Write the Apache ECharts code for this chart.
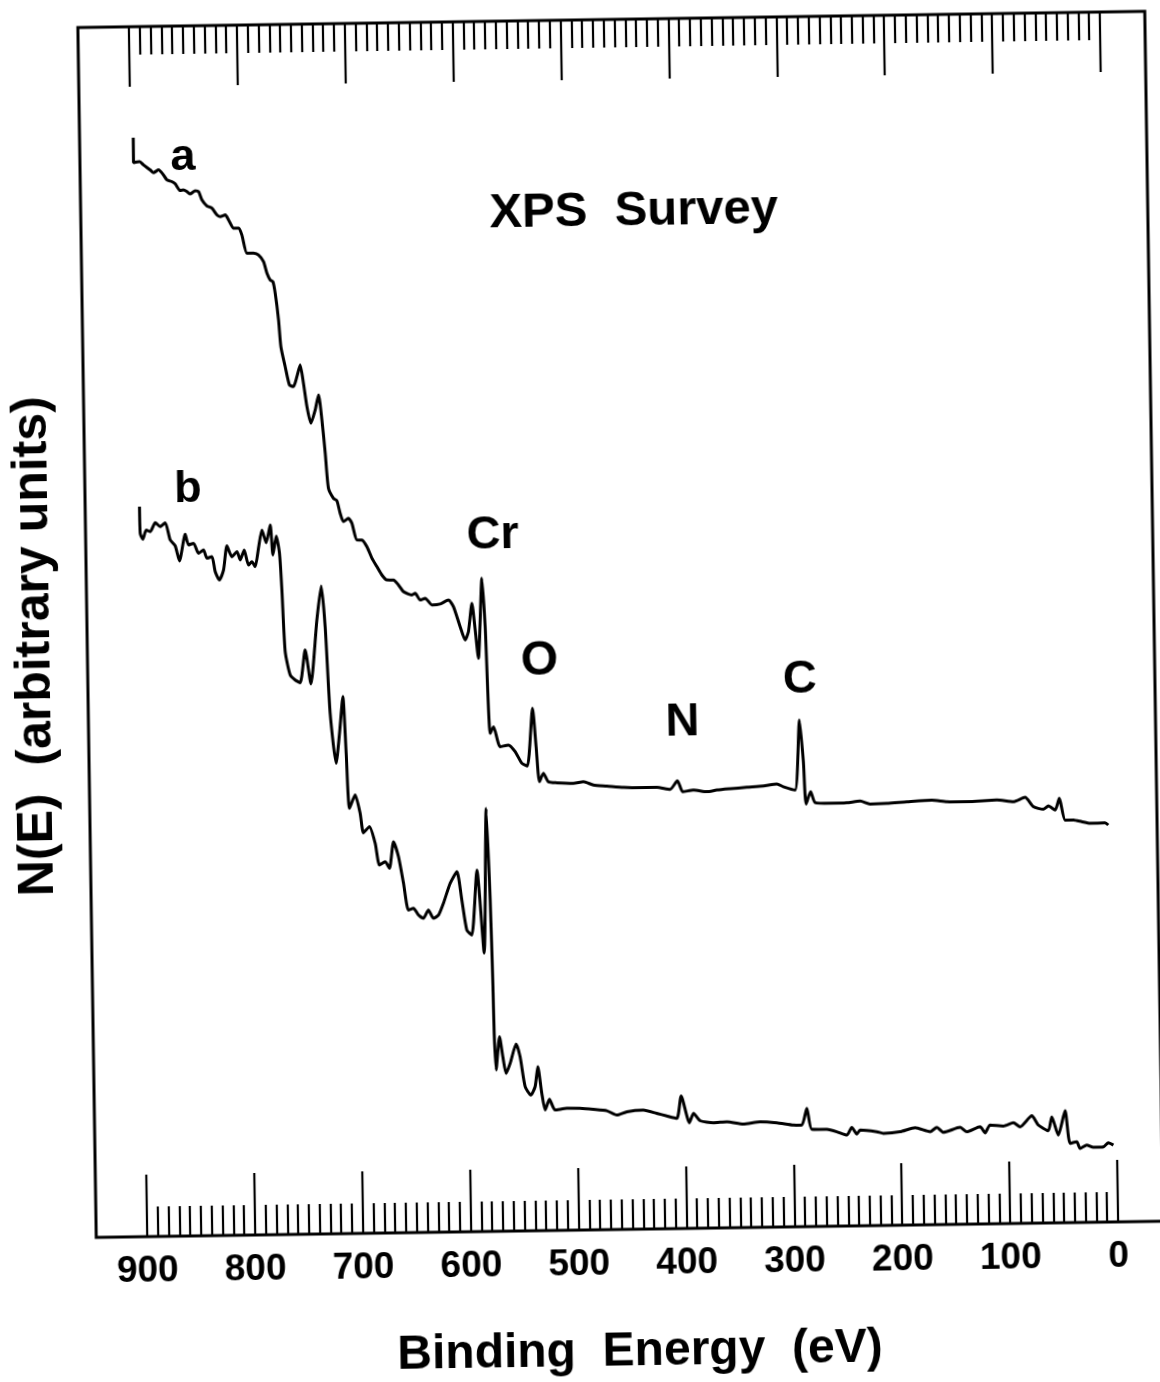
<!DOCTYPE html>
<html>
<head>
<meta charset="utf-8">
<script src="https://cdn.jsdelivr.net/npm/echarts@6/dist/echarts.min.js"></script>
<style>
  html, body { margin: 0; padding: 0; background: #fff; overflow: hidden; }
  #chart { width: 1160px; height: 1382px; transform: rotate(-0.87deg); transform-origin: 580px 691px; }
</style>
</head>
<body>
<div id="chart"></div>
<script>
// Binding energy (eV) / N(E) in arbitrary units
const curveA = [[897.5,1099],[897.6,1074],[892.0,1075],[888.3,1071.6],[882.2,1066.5],[879.2,1063.8],[874.5,1066.4],[870.0,1061.3],[866.9,1056.3],[862.3,1054.5],[859.2,1052.2],[854.7,1045.4],[851.6,1046],[848.5,1044.3],[845.5,1041.9],[840.8,1045.1],[837.7,1044.1],[834.7,1035.7],[830.2,1029.7],[825.6,1027.3],[821.0,1020.5],[818.0,1018.8],[813.3,1020.4],[810.3,1015.3],[805.8,1007],[801.2,1006.9],[798.2,1000.1],[793.8,981.8],[787.7,981.7],[783.1,979.9],[778.5,973.1],[775.5,961.5],[772.6,954.7],[770.1,953],[768.1,941.3],[765.4,914.6],[763.6,887.8],[759.9,867.8],[756.2,849.4],[752.5,847.7],[749.2,857.6],[746.0,869.3],[743.2,850.9],[740.3,827.4],[736.9,810.8],[732.7,824],[729.4,839],[726.6,813.9],[724.0,780.6],[721.5,745.5],[717.0,735.4],[713.9,733],[711.0,720.3],[708.1,711.9],[703.4,715.2],[700.3,710.2],[695.9,693.4],[691.3,693.3],[686.7,686.5],[682.2,674.9],[677.7,666.4],[673.2,658],[668.7,652.9],[662.5,652.8],[658.0,647.8],[653.4,641],[645.7,637.6],[642.6,639.2],[638.1,632.4],[633.4,634.1],[627.3,627.3],[619.6,628.1],[611.9,632],[607.3,625.2],[601.4,605.1],[596.9,591.7],[593.8,600],[590.2,628.3],[587.5,601.6],[584.9,573.2],[580.6,653.2],[578.2,604.7],[575.1,498.1],[571.9,504.6],[566.0,484.5],[558.3,486.1],[552.2,479.3],[546.1,467.6],[541.0,464.8],[535.5,522.4],[532.7,484],[530.1,448.9],[526.3,457.3],[521.8,448.8],[514.0,447.6],[498.6,446.8],[489.3,448.2],[480.1,444.8],[467.7,443.6],[452.3,442],[436.9,441.4],[421.4,441.5],[409.1,439.3],[402.2,447.8],[397.4,436.7],[387.5,438.3],[375.1,436.4],[365.8,437.9],[353.5,439],[338.0,440.2],[322.6,441.2],[310.1,443],[304.1,440.2],[293.3,436.7],[288.3,506.7],[285.2,464.6],[283.3,422.6],[278.9,434.8],[274.9,423.9],[261.0,422.9],[245.6,423.2],[233.2,424.7],[224.0,421.6],[208.5,422],[189.9,423.3],[166.8,424.6],[152.9,422.7],[134.3,422.4],[106.5,423.7],[91.2,421.7],[80.3,425.9],[72.7,416.4],[63.5,413.7],[58.8,416.9],[52.6,412.8],[48.5,424.4],[43.5,402.6],[35.8,402.5],[28.1,400.7],[20.4,398.9],[6.5,399.3],[3.5,397]];

const curveB = [[896.9,730],[896.6,703.4],[894.2,697.3],[891.0,706.6],[887.3,704.8],[882.5,713.8],[878.0,709.7],[873.3,713.6],[868.9,696.2],[864.3,690.2],[860.6,675.1],[854.9,701.7],[852.0,691],[847.3,692.6],[842.9,682.5],[838.2,685.7],[835.1,677.4],[830.5,678.9],[827.6,663.8],[823.8,655.5],[819.9,665.4],[816.4,689.4],[812.0,678.6],[807.2,683.5],[804.3,675.2],[800.5,685.1],[796.7,670],[793.5,673.3],[790.5,668.2],[787.2,686.6],[783.8,704.8],[780.0,692.1],[776.0,709.7],[773.9,679.7],[770.6,698.6],[767.8,681.3],[766.1,644.5],[763.9,582.8],[759.6,559.4],[755.0,554.3],[750.4,551.6],[745.4,584.2],[740.5,550.1],[734.1,614],[729.6,647.9],[726.5,607.2],[723.1,520.5],[718.2,470.4],[714.7,500.4],[711.1,536.9],[708.8,480.3],[706.5,425.2],[701.1,438.4],[696.7,420],[693.9,400.6],[688.3,406.5],[683.2,389.8],[679.5,368],[674.2,371.3],[670.3,364.6],[666.2,391.1],[661.8,376.1],[657.5,349.4],[653.3,322.6],[648.6,324.2],[644.1,317.5],[639.5,314.1],[634.8,322.3],[630.2,313.9],[625.5,317.1],[620.8,328.8],[614.3,348.7],[607.9,360.2],[603.7,331.8],[599.5,301.7],[594.9,296.6],[589.3,361.6],[583.7,278.5],[579.9,423.1],[577.4,331.4],[576.1,248],[575.6,198],[574.3,161.3],[570.7,194.5],[567.9,174.5],[565.1,157.8],[561.2,167.8],[555.4,187],[551.9,174.2],[547.6,144.1],[542.5,135.7],[538.4,144],[535.6,163.9],[532.3,137.3],[529.4,120.5],[525.3,131.2],[520.2,120.4],[509.3,121.9],[497.0,121.7],[484.7,120.5],[472.3,118.9],[463.1,114.4],[453.7,117.6],[438.4,119],[426.0,115.5],[416.7,112.7],[407.5,110.2],[403.2,132.5],[395.9,105.6],[392.0,115],[386.0,107.5],[373.7,105.3],[361.2,106.1],[345.9,103.5],[330.4,105.6],[314.9,104.3],[299.6,101.8],[291.8,101.6],[286.9,118.2],[282.6,97.2],[268.7,96.9],[259.5,94.4],[250.2,90.9],[245.5,98.6],[240.9,91.8],[237.8,95.7],[222.4,93.8],[216.3,92.1],[200.8,93.4],[186.8,97.2],[173.0,93],[166.7,97.3],[160.7,92.2],[145.1,96.9],[139.0,92.4],[126.6,97.2],[122.0,91.1],[117.3,98.8],[105.0,97.6],[95.7,100.7],[89.5,96.6],[78.5,107.4],[72.6,98],[63.4,92.2],[60.0,106.1],[54.2,87.7],[47.6,111.9],[43.4,79.2],[37.2,80.7],[34.2,74.1],[28.0,77.3],[21.9,74.9],[12.6,75.3],[7.9,79.3],[3.3,76.9]];

const xTicks = { min: 0, max: 900, step: 100 };
const chartTitle = 'XPS  Survey';
const xTitle = 'Binding  Energy  (eV)';
const yTitle = 'N(E)  (arbitrary units)';
const curveLabels = ['a', 'b'];
const peakLabels = ['Cr', 'O', 'N', 'C'];

const FONT = '"Liberation Sans", Arial, Helvetica, sans-serif';
const chart = echarts.init(document.getElementById('chart'), null, { renderer: 'canvas' });

function txt(text, x, y, size, rot) {
  return {
    type: 'text', x: x, y: y, rotation: rot || 0, z: 100,
    style: {
      text: text, font: 'bold ' + size + 'px ' + FONT, fill: '#000',
      align: 'center', verticalAlign: 'middle',
      textAlign: 'center', textVerticalAlign: 'middle'
    }
  };
}

const axisCommon = {
  type: 'value', min: xTicks.min, max: xTicks.max, interval: xTicks.step, inverse: true,
  axisLine: { show: false },
  splitLine: { show: false },
  minorSplitLine: { show: false }
};

chart.setOption({
  animation: false,
  backgroundColor: '#fff',
  grid: { left: 139, right: 50, top: 20, bottom: 152, containLabel: false },
  xAxis: [
    Object.assign({}, axisCommon, {
      position: 'bottom',
      axisTick: { show: true, inside: true, length: 62, lineStyle: { color: '#000', width: 2.2 } },
      minorTick: { show: true, splitNumber: 10, length: 30, lineStyle: { color: '#000', width: 2.2 } },
      axisLabel: { show: true, margin: 16, color: '#000', fontSize: 37, fontWeight: 'bold', fontFamily: FONT }
    }),
    Object.assign({}, axisCommon, {
      position: 'top',
      axisTick: { show: true, inside: true, length: 60, lineStyle: { color: '#000', width: 2.2 } },
      minorTick: { show: true, splitNumber: 10, length: 28, lineStyle: { color: '#000', width: 2.2 } },
      axisLabel: { show: false }
    })
  ],
  yAxis: { type: 'value', min: 0, max: 1210, show: false },
  series: [
    { name: curveLabels[0], type: 'line', xAxisIndex: 0, data: curveA, showSymbol: false, symbol: 'none',
      smooth: 0.2, lineStyle: { color: '#000', width: 3 }, itemStyle: { color: '#000' } },
    { name: curveLabels[1], type: 'line', xAxisIndex: 0, data: curveB, showSymbol: false, symbol: 'none',
      smooth: 0.2, lineStyle: { color: '#000', width: 3 }, itemStyle: { color: '#000' } }
  ],
  graphic: [
    { type: 'rect', shape: { x: 88, y: 20, width: 1067, height: 1210 },
      style: { fill: 'none', stroke: '#000', lineWidth: 3 }, z: 50 },
    txt(chartTitle, 641, 212, 49),
    txt(xTitle, 630, 1353, 48),
    txt(yTitle, 36, 638, 50, Math.PI / 2),
    txt(curveLabels[0], 191, 152, 45),
    txt(curveLabels[1], 191, 484, 45),
    txt(peakLabels[0], 495, 534, 47),
    txt(peakLabels[1], 540, 661, 48),
    txt(peakLabels[2], 682, 724, 47),
    txt(peakLabels[3], 800, 683, 47)
  ]
});
</script>
</body>
</html>
